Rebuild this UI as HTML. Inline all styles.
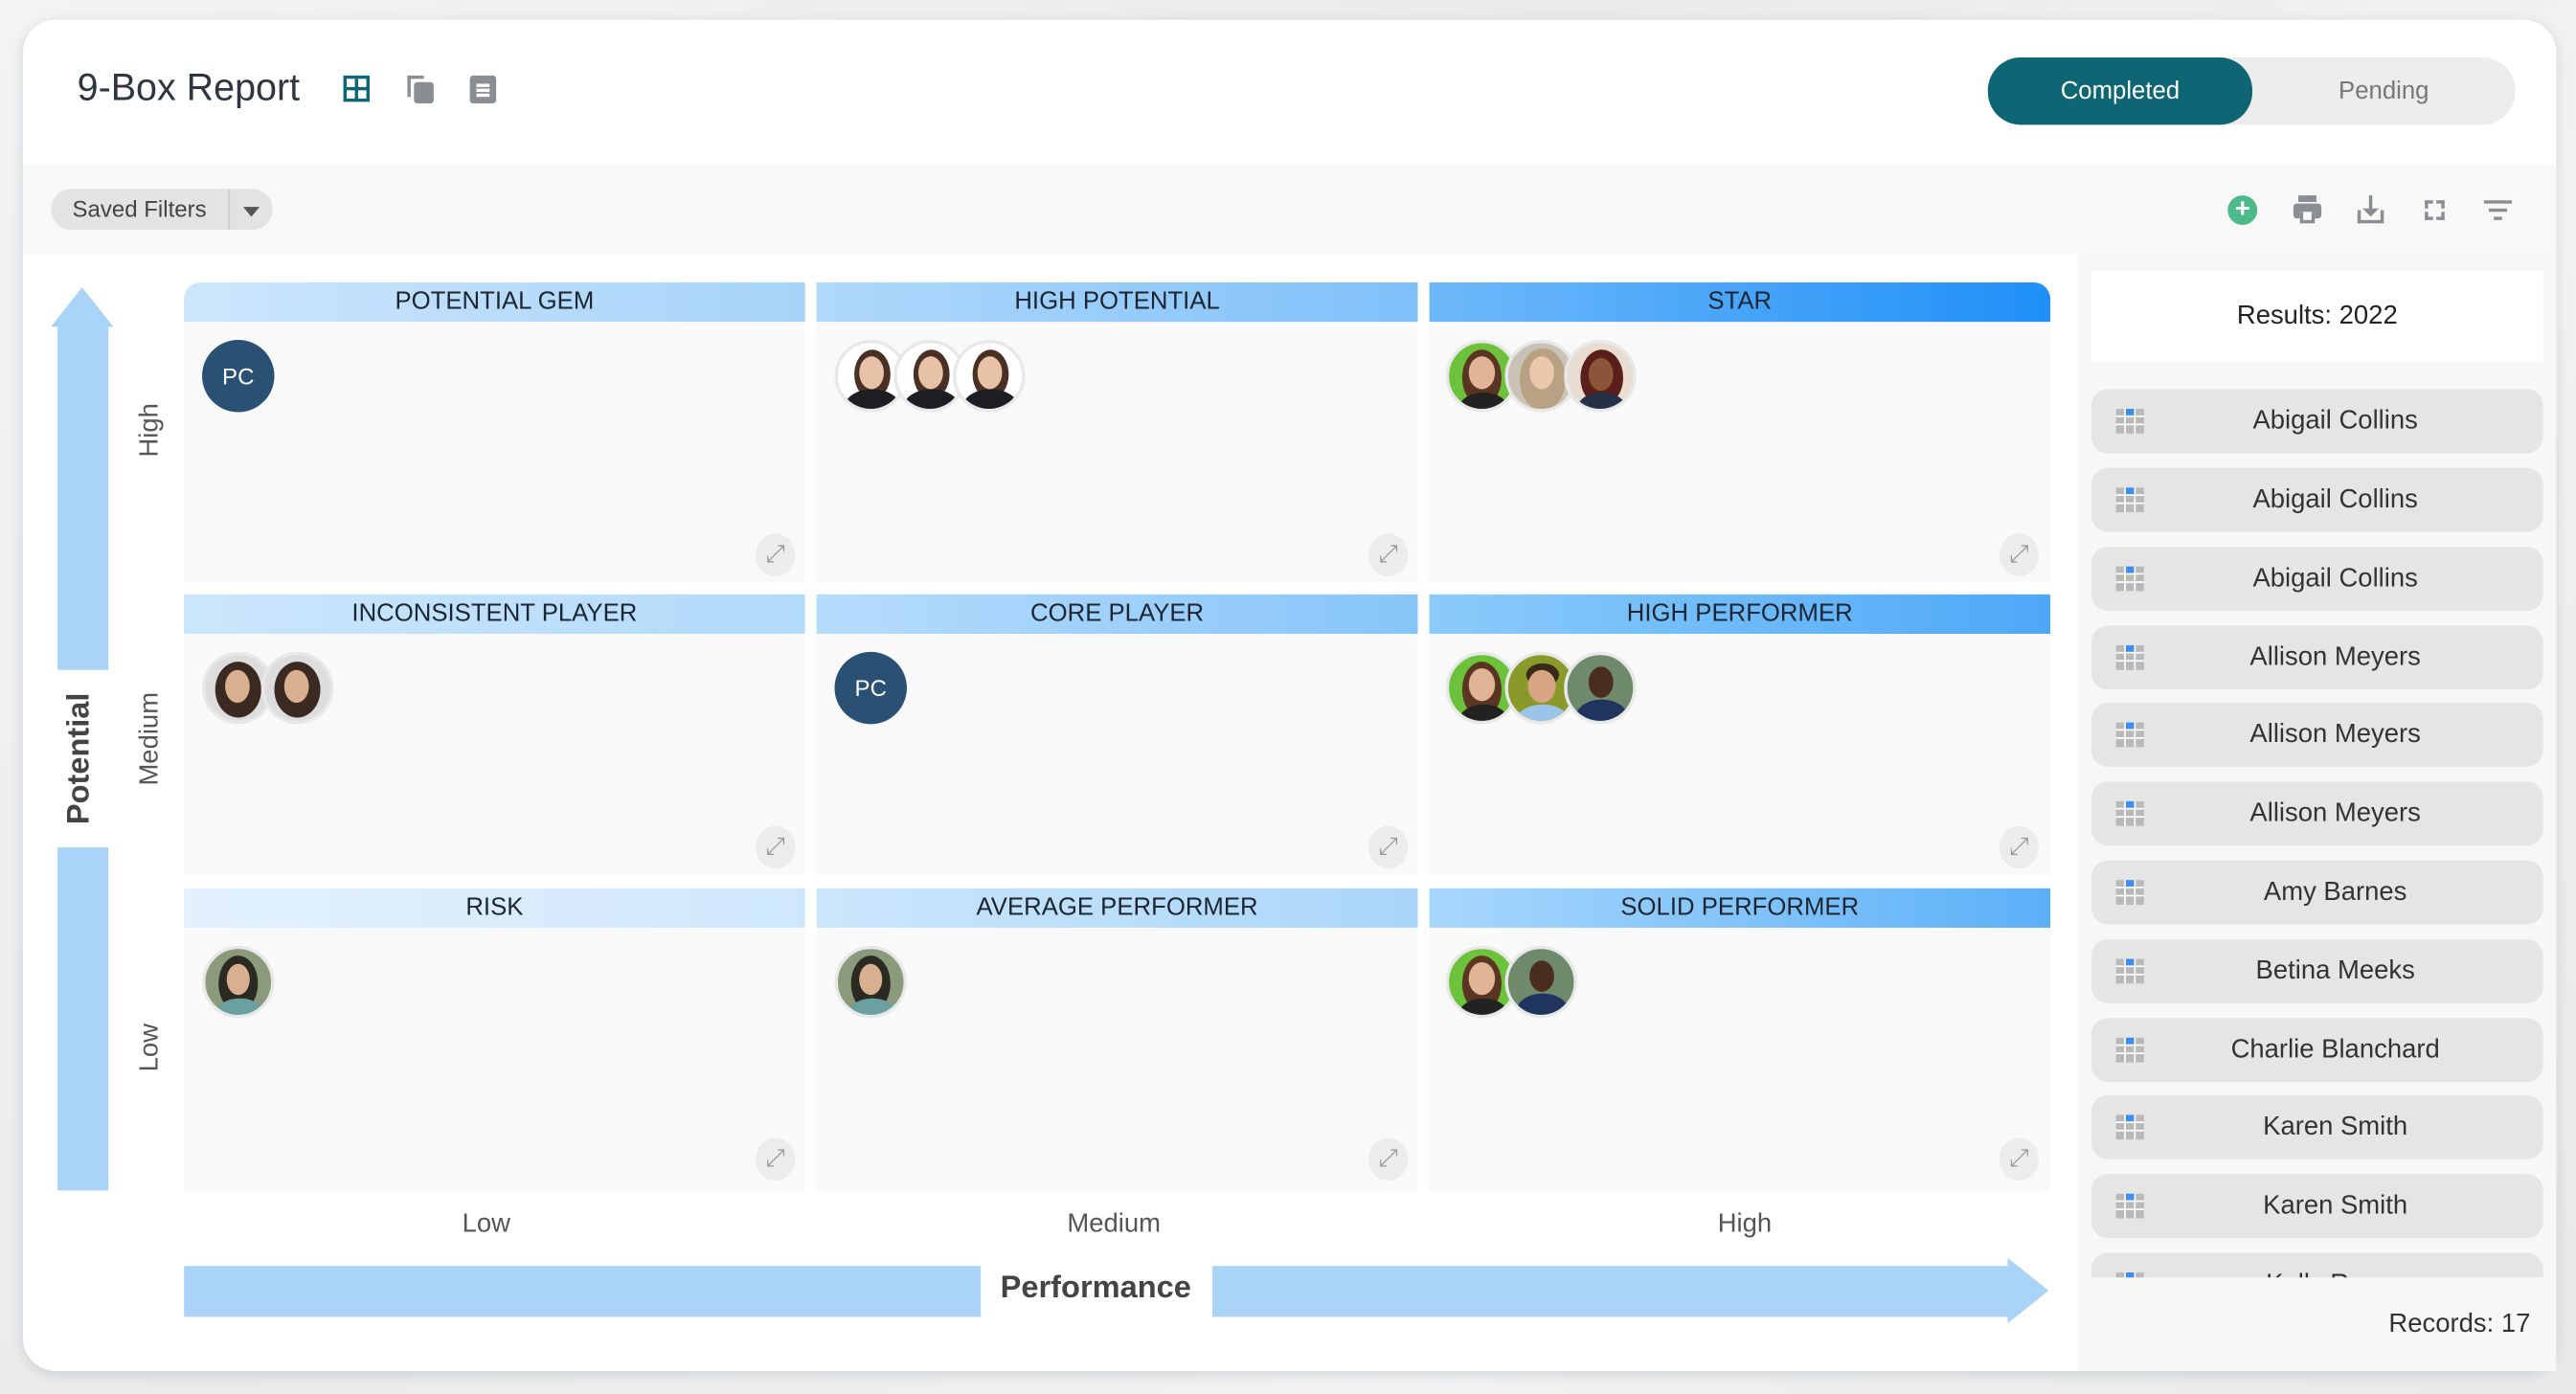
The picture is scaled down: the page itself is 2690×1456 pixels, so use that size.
<!DOCTYPE html>
<html><head><meta charset="utf-8">
<style>
*{box-sizing:border-box;margin:0;padding:0}
html,body{width:2690px;height:1456px;overflow:hidden;background:#eceef0;font-family:"Liberation Sans",sans-serif}
#s{position:absolute;left:0;top:0;width:1568px;height:849px;transform:scale(1.71556,1.7150);transform-origin:0 0;background:linear-gradient(135deg,#f2f3f4,#e8eaec 40%,#f1f2f3 70%,#e6e8ea)}
.a{position:absolute}
.card{left:14px;top:12px;width:1542px;height:823px;background:#fff;border-radius:20px;box-shadow:0 2px 8px rgba(0,0,0,.12);overflow:hidden}
.t{white-space:nowrap}
.hd{height:24px;line-height:24px;text-align:center;font-size:15px;color:#1c2530}
.bd{background:#f9f9f9}
.ex{width:24px;height:26px;border-radius:50%;background:#ececec;color:#999;font-size:15px;text-align:center;line-height:26px}
.av{position:absolute;width:44px;height:44px;border-radius:50%;border:2px solid #e8e8e8;overflow:hidden}
.av i{position:absolute;display:block;border-radius:50%}
.pc{position:absolute;width:44px;height:44px;border-radius:50%;background:#2a5073;color:#fff;font-size:14px;text-align:center;line-height:44px}
.li{position:absolute;left:1273px;width:275px;height:39px;border-radius:10px;background:#e5e5e5;font-size:16px;color:#333;text-align:center;line-height:39px;padding-left:22px}
.gi{position:absolute;left:15px;top:12px;width:17px;height:15px;background:
 linear-gradient(#fff,#fff) 5px 0/1px 15px no-repeat,linear-gradient(#fff,#fff) 11px 0/1px 15px no-repeat,
 linear-gradient(#fff,#fff) 0 4px/17px 1px no-repeat,linear-gradient(#fff,#fff) 0 9px/17px 1px no-repeat,
 linear-gradient(#3d8ef0,#3d8ef0) 6px 0/5px 4px no-repeat,#b9b9b9}
.fs{position:absolute;width:5px;height:5px;border-color:#8a8e93;border-style:solid;border-width:0}
</style></head><body><div id="s">
<div class="a card"></div>
<div class="a t" style="left:47px;top:40px;font-size:23px;color:#2f3640">9-Box Report</div>
<div class="a" style="left:209px;top:46px;width:16px;height:16px;border:2px solid #0e6675;background:linear-gradient(#0e6675,#0e6675) 5px 0/2px 14px no-repeat,linear-gradient(#0e6675,#0e6675) 0 5px/14px 2px no-repeat"></div>
<div class="a" style="left:248px;top:46px;width:10px;height:13px;border-left:2px solid #8a8e93;border-top:2px solid #8a8e93"></div>
<div class="a" style="left:252px;top:50px;width:12px;height:13px;background:#8a8e93;border-radius:2px"></div>
<div class="a" style="left:286px;top:46px;width:16px;height:17px;background:#8a8e93;border-radius:2px"></div>
<div class="a" style="left:290px;top:51px;width:8px;height:2px;background:#fff;box-shadow:0 3px #fff,0 6px #fff"></div>
<div class="a" style="left:1210px;top:35px;width:321px;height:41px;border-radius:20px;background:#ececec"></div>
<div class="a" style="left:1210px;top:35px;width:161px;height:41px;border-radius:20px;background:#0e6675;color:#fff;font-size:15px;text-align:center;line-height:41px">Completed</div>
<div class="a" style="left:1371px;top:35px;width:160px;height:41px;color:#777;font-size:15px;text-align:center;line-height:41px">Pending</div>
<div class="a" style="left:14px;top:100px;width:1542px;height:55px;background:#f8f8f8"></div>
<div class="a" style="left:31px;top:115px;width:135px;height:25px;border-radius:13px;background:#e3e3e3"></div>
<div class="a t" style="left:44px;top:119px;font-size:14px;color:#444">Saved Filters</div>
<div class="a" style="left:139px;top:115px;width:1px;height:25px;background:#ccc"></div>
<div class="a" style="left:148px;top:126px;border-left:5px solid transparent;border-right:5px solid transparent;border-top:6px solid #555"></div>
<div class="a" style="left:1356px;top:119px;width:18px;height:18px;border-radius:50%;background:#4cba8a;color:#fff;font-size:16px;font-weight:bold;text-align:center;line-height:18px">+</div>
<div class="a" style="left:1396px;top:124px;width:17px;height:9px;background:#8a8e93;border-radius:2px"></div>
<div class="a" style="left:1399px;top:119px;width:11px;height:4px;background:#8a8e93"></div>
<div class="a" style="left:1400px;top:129px;width:9px;height:7px;background:#fff;border:2px solid #8a8e93;border-top:none"></div>
<div class="a" style="left:1435px;top:128px;width:16px;height:8px;border:2px solid #8a8e93;border-top:none"></div>
<div class="a" style="left:1442px;top:119px;width:2px;height:11px;background:#8a8e93"></div>
<div class="a" style="left:1438px;top:127px;border-left:5px solid transparent;border-right:5px solid transparent;border-top:5px solid #8a8e93"></div>
<div class="fs" style="left:1476px;top:122px;border-left-width:2px;border-top-width:2px"></div>
<div class="fs" style="left:1483px;top:122px;border-right-width:2px;border-top-width:2px"></div>
<div class="fs" style="left:1476px;top:129px;border-left-width:2px;border-bottom-width:2px"></div>
<div class="fs" style="left:1483px;top:129px;border-right-width:2px;border-bottom-width:2px"></div>
<div class="a" style="left:1512px;top:122px;width:17px;height:2px;background:#8a8e93"></div>
<div class="a" style="left:1515px;top:127px;width:11px;height:2px;background:#8a8e93"></div>
<div class="a" style="left:1518px;top:132px;width:5px;height:2px;background:#8a8e93"></div>
<div class="a" style="left:1265px;top:155px;width:291px;height:680px;background:#f7f7f7"></div>
<div class="a" style="left:1273px;top:165px;width:275px;height:55px;background:#fff;text-align:center;line-height:55px;font-size:16px;color:#222">Results: 2022</div>
<div style="position:absolute;left:0;top:0;width:1568px;height:778px;overflow:hidden">
<div class="li" style="top:237px"><span class="gi"></span>Abigail Collins</div>
<div class="li" style="top:285px"><span class="gi"></span>Abigail Collins</div>
<div class="li" style="top:333px"><span class="gi"></span>Abigail Collins</div>
<div class="li" style="top:381px"><span class="gi"></span>Allison Meyers</div>
<div class="li" style="top:428px"><span class="gi"></span>Allison Meyers</div>
<div class="li" style="top:476px"><span class="gi"></span>Allison Meyers</div>
<div class="li" style="top:524px"><span class="gi"></span>Amy Barnes</div>
<div class="li" style="top:572px"><span class="gi"></span>Betina Meeks</div>
<div class="li" style="top:620px"><span class="gi"></span>Charlie Blanchard</div>
<div class="li" style="top:667px"><span class="gi"></span>Karen Smith</div>
<div class="li" style="top:715px"><span class="gi"></span>Karen Smith</div>
<div class="li" style="top:763px"><span class="gi"></span>Kelly Reyes</div>
</div>
<div class="a t" style="left:1454px;top:798px;font-size:16px;color:#333">Records: 17</div>
<div class="a" style="left:31px;top:175px;border-left:19.5px solid transparent;border-right:19.5px solid transparent;border-bottom:24px solid #aad4f7"></div>
<div class="a" style="left:35px;top:198px;width:31px;height:210px;background:#aad4f7"></div>
<div class="a" style="left:35px;top:516px;width:31px;height:209px;background:#aad4f7"></div>
<div class="a t" style="left:49px;top:462px;transform:translate(-50%,-50%) rotate(-90deg);font-size:19px;font-weight:bold;color:#444">Potential</div>
<div class="a t" style="left:92px;top:262px;transform:translate(-50%,-50%) rotate(-90deg);font-size:16px;color:#555">High</div>
<div class="a t" style="left:92px;top:450px;transform:translate(-50%,-50%) rotate(-90deg);font-size:16px;color:#555">Medium</div>
<div class="a t" style="left:92px;top:638px;transform:translate(-50%,-50%) rotate(-90deg);font-size:16px;color:#555">Low</div>
<div class="a bd" style="left:112px;top:172px;width:378px;height:183px;border-radius:10px 0 0 0"></div>
<div class="a bd" style="left:497px;top:172px;width:366px;height:183px"></div>
<div class="a bd" style="left:870px;top:172px;width:378px;height:183px;border-radius:0 10px 0 0"></div>
<div class="a bd" style="left:112px;top:362px;width:378px;height:171px"></div>
<div class="a bd" style="left:497px;top:362px;width:366px;height:171px"></div>
<div class="a bd" style="left:870px;top:362px;width:378px;height:171px"></div>
<div class="a bd" style="left:112px;top:541px;width:378px;height:184px"></div>
<div class="a bd" style="left:497px;top:541px;width:366px;height:184px"></div>
<div class="a bd" style="left:870px;top:541px;width:378px;height:184px"></div>
<div class="a hd" style="left:112px;top:172px;width:378px;border-radius:10px 0 0 0;background:linear-gradient(90deg,#cde6fc,#a6d3f9)">POTENTIAL GEM</div>
<div class="a hd" style="left:497px;top:172px;width:366px;background:linear-gradient(90deg,#b0d9fb,#7fc0fa)">HIGH POTENTIAL</div>
<div class="a hd" style="left:870px;top:172px;width:378px;border-radius:0 10px 0 0;background:linear-gradient(90deg,#6fb9fa,#1f8ff8)">STAR</div>
<div class="a hd" style="left:112px;top:362px;width:378px;background:linear-gradient(90deg,#cbe6fc,#b2dafb)">INCONSISTENT PLAYER</div>
<div class="a hd" style="left:497px;top:362px;width:366px;background:linear-gradient(90deg,#b6dcfc,#87c5fa)">CORE PLAYER</div>
<div class="a hd" style="left:870px;top:362px;width:378px;background:linear-gradient(90deg,#8ccbfb,#4ea8f8)">HIGH PERFORMER</div>
<div class="a hd" style="left:112px;top:541px;width:378px;background:linear-gradient(90deg,#e3f1fd,#cfe7fc)">RISK</div>
<div class="a hd" style="left:497px;top:541px;width:366px;background:linear-gradient(90deg,#cbe6fc,#aad6fa)">AVERAGE PERFORMER</div>
<div class="a hd" style="left:870px;top:541px;width:378px;background:linear-gradient(90deg,#a8d7fc,#5cb0f8)">SOLID PERFORMER</div>
<div class="a ex" style="left:460px;top:325px">⤢</div>
<div class="a ex" style="left:833px;top:325px">⤢</div>
<div class="a ex" style="left:1217px;top:325px">⤢</div>
<div class="a ex" style="left:460px;top:503px">⤢</div>
<div class="a ex" style="left:833px;top:503px">⤢</div>
<div class="a ex" style="left:1217px;top:503px">⤢</div>
<div class="a ex" style="left:460px;top:693px">⤢</div>
<div class="a ex" style="left:833px;top:693px">⤢</div>
<div class="a ex" style="left:1217px;top:693px">⤢</div>
<div class="pc" style="left:123px;top:207px">PC</div>
<div class="pc" style="left:508px;top:397px">PC</div>
<div class="av" style="left:508px;top:207px;background:#fff"><i style="left:10px;top:4px;width:22px;height:30px;background:#4a3024"></i><i style="left:13px;top:8px;width:15px;height:20px;background:#e8c2a6"></i><i style="left:4px;top:28px;width:34px;height:22px;background:#1e1e22"></i></div>
<div class="av" style="left:544px;top:207px;background:#fff"><i style="left:10px;top:4px;width:22px;height:30px;background:#4a3024"></i><i style="left:13px;top:8px;width:15px;height:20px;background:#e8c2a6"></i><i style="left:4px;top:28px;width:34px;height:22px;background:#1e1e22"></i></div>
<div class="av" style="left:580px;top:207px;background:#fff"><i style="left:10px;top:4px;width:22px;height:30px;background:#4a3024"></i><i style="left:13px;top:8px;width:15px;height:20px;background:#e8c2a6"></i><i style="left:4px;top:28px;width:34px;height:22px;background:#1e1e22"></i></div>
<div class="av" style="left:880px;top:207px;background:#6cc23a"><i style="left:8px;top:4px;width:24px;height:34px;background:#5a3522"></i><i style="left:12px;top:8px;width:16px;height:20px;background:#e2b497"></i><i style="left:6px;top:30px;width:30px;height:20px;background:#222"></i></div>
<div class="av" style="left:916px;top:207px;background:#c9c2b8"><i style="left:7px;top:3px;width:28px;height:38px;background:#b8a283"></i><i style="left:13px;top:8px;width:15px;height:20px;background:#e9c8ae"></i></div>
<div class="av" style="left:952px;top:207px;background:#e9ddd2"><i style="left:8px;top:4px;width:26px;height:34px;background:#5a1f1a"></i><i style="left:13px;top:9px;width:15px;height:20px;background:#8a5538"></i><i style="left:6px;top:30px;width:30px;height:20px;background:#263046"></i></div>
<div class="av" style="left:123px;top:397px;background:#ddd"><i style="left:6px;top:4px;width:28px;height:34px;background:#3a2a22"></i><i style="left:12px;top:9px;width:15px;height:20px;background:#d9b08f"></i></div>
<div class="av" style="left:159px;top:397px;background:#ddd"><i style="left:6px;top:4px;width:28px;height:34px;background:#3a2a22"></i><i style="left:12px;top:9px;width:15px;height:20px;background:#d9b08f"></i></div>
<div class="av" style="left:880px;top:397px;background:#6cc23a"><i style="left:8px;top:4px;width:24px;height:34px;background:#5a3522"></i><i style="left:12px;top:8px;width:16px;height:20px;background:#e2b497"></i><i style="left:6px;top:30px;width:30px;height:20px;background:#222"></i></div>
<div class="av" style="left:916px;top:397px;background:#8a9a2a"><i style="left:11px;top:5px;width:20px;height:14px;background:#3a2a1a"></i><i style="left:12px;top:9px;width:17px;height:20px;background:#d8a582"></i><i style="left:5px;top:30px;width:32px;height:20px;background:#9cc3e8"></i></div>
<div class="av" style="left:952px;top:397px;background:#6f8a6a"><i style="left:13px;top:7px;width:15px;height:19px;background:#4a2d1e"></i><i style="left:5px;top:27px;width:32px;height:22px;background:#1f3560"></i></div>
<div class="av" style="left:123px;top:576px;background:#8a9a7a"><i style="left:8px;top:4px;width:24px;height:34px;background:#2a2a22"></i><i style="left:13px;top:9px;width:14px;height:19px;background:#d9b08f"></i><i style="left:6px;top:30px;width:30px;height:20px;background:#6aa0a0"></i></div>
<div class="av" style="left:508px;top:576px;background:#8a9a7a"><i style="left:8px;top:4px;width:24px;height:34px;background:#2a2a22"></i><i style="left:13px;top:9px;width:14px;height:19px;background:#d9b08f"></i><i style="left:6px;top:30px;width:30px;height:20px;background:#6aa0a0"></i></div>
<div class="av" style="left:880px;top:576px;background:#6cc23a"><i style="left:8px;top:4px;width:24px;height:34px;background:#5a3522"></i><i style="left:12px;top:8px;width:16px;height:20px;background:#e2b497"></i><i style="left:6px;top:30px;width:30px;height:20px;background:#222"></i></div>
<div class="av" style="left:916px;top:576px;background:#6f8a6a"><i style="left:13px;top:7px;width:15px;height:19px;background:#4a2d1e"></i><i style="left:5px;top:27px;width:32px;height:22px;background:#1f3560"></i></div>
<div class="a t" style="left:296px;top:737px;transform:translateX(-50%);font-size:16px;color:#555">Low</div>
<div class="a t" style="left:678px;top:737px;transform:translateX(-50%);font-size:16px;color:#555">Medium</div>
<div class="a t" style="left:1062px;top:737px;transform:translateX(-50%);font-size:16px;color:#555">High</div>
<div class="a" style="left:112px;top:771px;width:485px;height:31px;background:#aad4f7"></div>
<div class="a" style="left:738px;top:771px;width:485px;height:31px;background:#aad4f7"></div>
<div class="a" style="left:1222px;top:766px;border-top:20px solid transparent;border-bottom:20px solid transparent;border-left:25px solid #aad4f7"></div>
<div class="a t" style="left:667px;top:774px;transform:translateX(-50%);font-size:19px;font-weight:bold;color:#444">Performance</div>
</div></body></html>
